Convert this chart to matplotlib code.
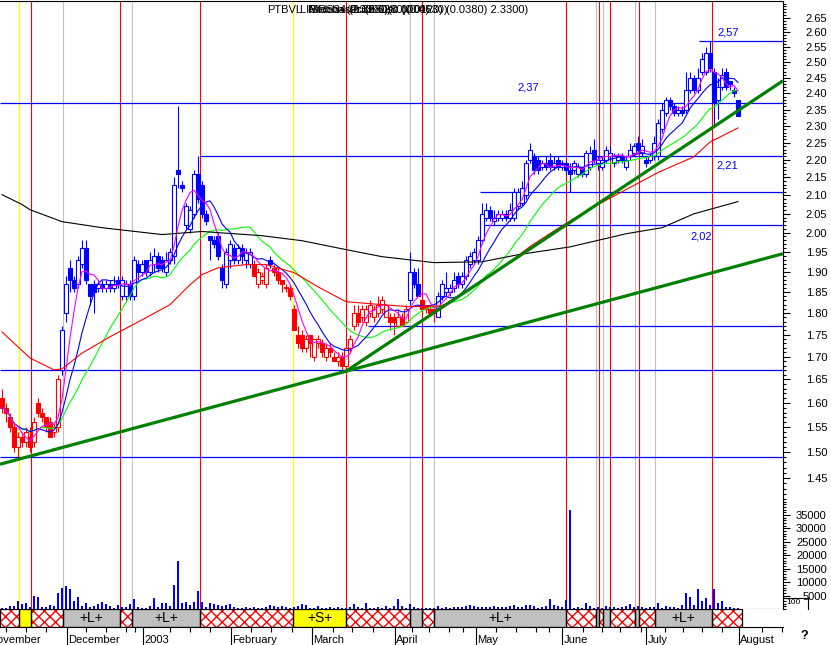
import numpy as np
import pandas as pd
import matplotlib
matplotlib.use("Agg")
import matplotlib.pyplot as plt
import matplotlib.transforms as mtransforms
from matplotlib.patches import Rectangle
from matplotlib.lines import Line2D
from matplotlib.ticker import FixedLocator, NullFormatter, FormatStrFormatter

plt.rcParams['font.family'] = ['Liberation Sans', 'DejaVu Sans']

# PTBVL daily bars, late Nov 2002 .. end of Jul 2003 (x = trading day index)
opens = [1.61, 1.59, 1.57, 1.55, 1.51, 1.53, 1.52, 1.53, 1.52, 1.60,
         1.58, 1.57, 1.56, 1.54, 1.55, 1.67, 1.80, 1.91, 1.88, 1.87,
         1.92, 1.96, 1.87, 1.87, 1.86, 1.87, 1.86, 1.87, 1.86, 1.88,
         1.84, 1.84, 1.87, 1.84, 1.92, 1.90, 1.93, 1.90, 1.92, 1.94,
         1.93, 1.90, 1.93, 1.94, 2.17, 2.13, 2.02, 2.01, 2.05, 2.16,
         2.13, 2.05, 1.99, 1.98, 1.99, 1.91, 1.87, 1.93, 1.96, 1.93,
         1.96, 1.93, 1.92, 1.92, 1.87, 1.88, 1.87, 1.93, 1.91, 1.90,
         1.88, 1.86, 1.86, 1.81, 1.75, 1.75, 1.72, 1.75, 1.70, 1.73,
         1.73, 1.70, 1.72, 1.70, 1.69, 1.70, 1.68, 1.72, 1.77, 1.80,
         1.79, 1.78, 1.80, 1.79, 1.80, 1.81, 1.79, 1.79, 1.79, 1.77,
         1.79, 1.78, 1.83, 1.90, 1.87, 1.83, 1.82, 1.81, 1.81, 1.79,
         1.84, 1.85, 1.85, 1.86, 1.89, 1.87, 1.89, 1.92, 1.93, 1.93,
         1.98, 2.04, 2.06, 2.03, 2.04, 2.04, 2.05, 2.04, 2.04, 2.07,
         2.08, 2.10, 2.20, 2.21, 2.20, 2.18, 2.19, 2.20, 2.18, 2.20,
         2.18, 2.19, 2.17, 2.17, 2.16, 2.18, 2.16, 2.18, 2.23, 2.19,
         2.18, 2.20, 2.21, 2.19, 2.20, 2.21, 2.18, 2.21, 2.22, 2.25,
         2.22, 2.20, 2.20, 2.21, 2.21, 2.29, 2.34, 2.38, 2.36, 2.34,
         2.35, 2.35, 2.41, 2.45, 2.41, 2.47, 2.47, 2.53, 2.47, 2.38,
         2.42, 2.47, 2.44, 2.41, 2.38]
highs = [1.63, 1.60, 1.58, 1.56, 1.54, 1.54, 1.55, 1.55, 1.57, 1.61,
         1.59, 1.57, 1.57, 1.56, 1.66, 1.77, 1.89, 1.93, 1.89, 1.94,
         1.98, 1.98, 1.87, 1.88, 1.88, 1.88, 1.88, 1.88, 1.89, 1.89,
         1.89, 1.88, 1.88, 1.94, 1.93, 1.93, 1.93, 1.95, 1.96, 1.95,
         1.94, 1.95, 1.96, 2.15, 2.36, 2.14, 2.08, 2.07, 2.17, 2.21,
         2.14, 2.06, 1.99, 1.99, 2.00, 1.92, 1.96, 1.98, 1.97, 1.97,
         1.97, 1.96, 1.96, 1.93, 1.91, 1.90, 1.92, 1.94, 1.92, 1.91,
         1.88, 1.87, 1.87, 1.82, 1.77, 1.76, 1.75, 1.75, 1.74, 1.75,
         1.74, 1.73, 1.73, 1.71, 1.71, 1.71, 1.73, 1.75, 1.82, 1.82,
         1.82, 1.82, 1.83, 1.82, 1.84, 1.84, 1.82, 1.80, 1.80, 1.81,
         1.80, 1.82, 1.95, 1.91, 1.91, 1.84, 1.82, 1.82, 1.81, 1.85,
         1.88, 1.90, 1.87, 1.90, 1.90, 1.90, 1.94, 1.95, 1.96, 1.99,
         2.08, 2.08, 2.07, 2.06, 2.06, 2.06, 2.06, 2.08, 2.12, 2.12,
         2.14, 2.20, 2.25, 2.22, 2.21, 2.20, 2.21, 2.22, 2.21, 2.21,
         2.20, 2.20, 2.19, 2.20, 2.19, 2.18, 2.23, 2.24, 2.26, 2.21,
         2.21, 2.24, 2.24, 2.22, 2.22, 2.22, 2.21, 2.25, 2.25, 2.27,
         2.26, 2.21, 2.22, 2.27, 2.32, 2.37, 2.39, 2.39, 2.37, 2.36,
         2.36, 2.47, 2.47, 2.46, 2.48, 2.53, 2.55, 2.57, 2.48, 2.45,
         2.48, 2.48, 2.44, 2.42, 2.38]
lows = [1.58, 1.56, 1.54, 1.50, 1.49, 1.51, 1.51, 1.50, 1.51, 1.57,
        1.56, 1.54, 1.53, 1.53, 1.54, 1.66, 1.78, 1.85, 1.85, 1.86,
        1.91, 1.87, 1.82, 1.80, 1.85, 1.85, 1.85, 1.85, 1.85, 1.86,
        1.83, 1.83, 1.83, 1.83, 1.88, 1.89, 1.89, 1.89, 1.90, 1.90,
        1.90, 1.89, 1.92, 1.92, 2.12, 2.11, 2.01, 2.00, 2.04, 2.08,
        2.04, 2.02, 1.93, 1.96, 1.93, 1.86, 1.86, 1.91, 1.92, 1.92,
        1.92, 1.91, 1.91, 1.89, 1.86, 1.87, 1.86, 1.91, 1.89, 1.87,
        1.85, 1.85, 1.83, 1.76, 1.72, 1.71, 1.71, 1.70, 1.69, 1.72,
        1.70, 1.69, 1.70, 1.69, 1.68, 1.67, 1.67, 1.71, 1.76, 1.77,
        1.78, 1.77, 1.79, 1.78, 1.79, 1.80, 1.79, 1.76, 1.75, 1.77,
        1.77, 1.78, 1.82, 1.86, 1.84, 1.80, 1.80, 1.80, 1.78, 1.79,
        1.83, 1.84, 1.84, 1.85, 1.86, 1.86, 1.88, 1.91, 1.92, 1.92,
        1.97, 2.03, 2.03, 2.02, 2.03, 2.03, 2.03, 2.03, 2.03, 2.06,
        2.07, 2.09, 2.19, 2.16, 2.16, 2.17, 2.17, 2.17, 2.17, 2.17,
        2.17, 2.16, 2.11, 2.16, 2.15, 2.15, 2.15, 2.17, 2.19, 2.17,
        2.17, 2.19, 2.20, 2.18, 2.19, 2.19, 2.17, 2.20, 2.21, 2.22,
        2.21, 2.18, 2.19, 2.20, 2.20, 2.28, 2.33, 2.35, 2.33, 2.33,
        2.33, 2.34, 2.40, 2.40, 2.40, 2.46, 2.46, 2.47, 2.30, 2.32,
        2.41, 2.41, 2.41, 2.39, 2.33]
closes = [1.59, 1.58, 1.55, 1.51, 1.53, 1.52, 1.54, 1.51, 1.56, 1.58,
          1.57, 1.55, 1.53, 1.55, 1.65, 1.76, 1.87, 1.88, 1.86, 1.93,
          1.96, 1.88, 1.84, 1.85, 1.87, 1.86, 1.87, 1.86, 1.87, 1.87,
          1.88, 1.87, 1.84, 1.93, 1.90, 1.92, 1.90, 1.93, 1.94, 1.91,
          1.91, 1.93, 1.95, 2.13, 2.16, 2.12, 2.07, 2.06, 2.16, 2.09,
          2.05, 2.03, 1.98, 1.97, 1.94, 1.88, 1.95, 1.97, 1.93, 1.96,
          1.94, 1.95, 1.95, 1.89, 1.90, 1.89, 1.91, 1.92, 1.90, 1.88,
          1.87, 1.86, 1.84, 1.76, 1.73, 1.72, 1.74, 1.73, 1.74, 1.74,
          1.71, 1.72, 1.71, 1.69, 1.70, 1.68, 1.72, 1.74, 1.80, 1.78,
          1.81, 1.81, 1.82, 1.81, 1.82, 1.83, 1.82, 1.78, 1.78, 1.79,
          1.77, 1.81, 1.90, 1.87, 1.84, 1.81, 1.81, 1.80, 1.80, 1.84,
          1.87, 1.86, 1.86, 1.88, 1.87, 1.89, 1.93, 1.94, 1.95, 1.98,
          2.05, 2.06, 2.04, 2.04, 2.05, 2.05, 2.04, 2.06, 2.11, 2.11,
          2.12, 2.19, 2.23, 2.17, 2.17, 2.19, 2.18, 2.18, 2.19, 2.18,
          2.19, 2.17, 2.16, 2.19, 2.18, 2.16, 2.22, 2.22, 2.20, 2.20,
          2.20, 2.23, 2.22, 2.21, 2.21, 2.20, 2.20, 2.23, 2.24, 2.23,
          2.24, 2.19, 2.21, 2.25, 2.31, 2.35, 2.38, 2.36, 2.34, 2.35,
          2.34, 2.41, 2.45, 2.41, 2.45, 2.51, 2.53, 2.48, 2.37, 2.42,
          2.46, 2.42, 2.43, 2.40, 2.33]
volumes = [500, 500, 1100, 1100, 2900, 1800, 2300, 700, 5000, 4500,
           700, 700, 1500, 1100, 6100, 8000, 8400, 7500, 2900, 4400,
           1100, 2200, 700, 1100, 1800, 2600, 1700, 1100, 500, 1500,
           700, 800, 1800, 3700, 700, 500, 500, 1100, 4000, 700,
           2200, 2200, 1100, 9100, 17900, 2400, 2600, 1500, 2600, 6600,
           2600, 700, 2200, 1800, 1500, 1100, 1500, 1800, 700, 500,
           500, 700, 500, 700, 500, 500, 700, 1500, 1300, 700,
           1100, 700, 500, 700, 1100, 1700, 1500, 500, 500, 1100,
           500, 500, 700, 500, 700, 500, 500, 700, 1800, 700,
           500, 2400, 500, 500, 700, 500, 1100, 500, 1100, 3900,
           1100, 500, 1700, 900, 500, 500, 500, 500, 500, 1100,
           500, 700, 500, 700, 900, 700, 1300, 1500, 1300, 700,
           700, 900, 700, 1100, 700, 700, 900, 1100, 1500, 700,
           700, 1500, 1500, 1100, 500, 700, 1100, 3700, 1500, 1100,
           700, 3300, 37000, 500, 700, 500, 2200, 1100, 500, 700,
           500, 1100, 700, 700, 500, 700, 1100, 1700, 700, 1100,
           700, 500, 700, 700, 2200, 500, 1100, 700, 700, 500,
           1500, 6100, 4400, 1500, 7300, 3000, 4000, 1500, 7300, 2200,
           2900, 700, 700, 500, 500]

# bars drawn red (down-trend signal) - inclusive index ranges
red_runs = [(0, 14), (63, 66), (68, 101), (105, 108)]

# 50 and 200 day averages
ma50_idx = [0, 7, 13, 15, 20, 27, 35, 42, 47, 50, 54, 61, 66, 73, 79, 86, 95,
            102, 110, 117, 125, 132, 140, 148, 156, 164, 173, 177, 184]
ma50_val = [1.756, 1.697, 1.671, 1.673, 1.708, 1.745, 1.784, 1.820, 1.868,
            1.893, 1.910, 1.918, 1.918, 1.898, 1.863, 1.827, 1.820, 1.815,
            1.817, 1.856, 1.910, 1.964, 2.018, 2.069, 2.116, 2.164, 2.209,
            2.252, 2.294]
ma200_idx = [0, 5, 7, 15, 25, 40, 50, 65, 75, 86, 95, 108, 120, 129, 142,
             156, 165, 173, 184]
ma200_val = [2.102, 2.075, 2.061, 2.029, 2.013, 1.995, 2.003, 1.992, 1.979,
             1.956, 1.938, 1.923, 1.925, 1.943, 1.963, 1.997, 2.013, 2.050,
             2.083]

# support / resistance levels: (price, first bar)
levels = [(2.57, 174.25), (2.37, -0.5), (2.21, 49.5), (2.11, 119.5),
          (2.02, 119.5), (1.77, 91.5), (1.67, -0.5), (1.49, -0.5)]
level_labels = [('2,57', 181.5, 2.598), ('2,37', 131.5, 2.418),
                ('2,21', 181.25, 2.183), ('2,02', 174.75, 1.991)]

# trend lines through two lows: (bar, price), (bar, price), draw from
trend_lines = [((4, 1.486), (86, 1.668), -0.5),
               ((86, 1.668), (178, 2.298), 86)]

# signal markers
yellow_marks = [4.25, 72.75]
red_marks = [7.25, 29.5, 49.5, 86, 105, 141, 149.25, 152, 159.25, 177.5]
gray_marks = [15.25, 32.5, 102, 108, 148.5, 150.25, 158.25, 163.25]

# position strip: (start, end, kind, label)
strip = [(-0.5, 4.25, 'x', ''), (4.25, 7.25, 'y', ''), (7.25, 15.25, 'x', ''),
         (15.25, 29.5, 'g', '+L+'), (29.5, 32.5, 'x', ''), (32.5, 49.5, 'g', '+L+'),
         (49.5, 72.75, 'x', ''), (72.75, 86, 'y', '+S+'), (86, 102, 'x', ''),
         (102, 105, 'g', ''), (105, 108, 'x', ''), (108, 141, 'g', '+L+'),
         (141, 148.5, 'x', ''), (148.5, 149.25, 'g', ''), (149.25, 150.25, 'x', ''),
         (150.25, 152, 'g', ''), (152, 158.25, 'x', ''), (158.25, 159.25, 'g', ''),
         (159.25, 163.25, 'x', ''), (163.25, 177.5, 'g', '+L+'), (177.5, 185, 'x', '')]

month_ticks = [16.25, 35.25, 57.25, 77.5, 98.25, 118.5, 140, 161, 184.25]
month_names = ['December', '2003', 'February', 'March', 'April', 'May',
               'June', 'July', 'August']
week_ticks = [1, 6, 11, 21, 26, 31, 33.25, 42, 47, 52, 62.25, 67.25, 72.5,
              82.75, 87.5, 92.75, 102.5, 106.75, 111.75, 115.25, 123.5, 128.5,
              133.5, 136.75, 145.25, 150, 154.5, 159.75, 165.75, 170.25, 175,
              180, 190, 195]

BLUE = '#0000ff'
RED = '#ff0000'
GRAY = '#c0c0c0'
YELLOW = '#ffff00'
XMIN, XMAX = -0.5, 195.25

W, H = 831, 645


def box(x0, y0, x1, y1):
    return [x0 / W, 1 - y1 / H, (x1 - x0) / W, (y1 - y0) / H]


fig = plt.figure(figsize=(W / 100, H / 100), dpi=100)
ax = fig.add_axes(box(0, 1, 783, 497))
axv = fig.add_axes(box(0, 497, 783, 609), sharex=ax)
axs = fig.add_axes(box(0, 609, 783, 627), sharex=ax)

n = len(closes)
idx = np.arange(n)

# signal lines through price + volume panels
for a in (ax, axv):
    for x in gray_marks:
        a.axvline(x, color=GRAY, lw=0.8, zorder=1)
    for x in yellow_marks:
        a.axvline(x, color=YELLOW, lw=0.9, zorder=1)
    for x in red_marks:
        a.axvline(x, color=RED, lw=0.8, zorder=1)

for price, start in levels:
    ax.hlines(price, start, XMAX, color=BLUE, lw=0.9, zorder=2)
for txt, x, y in level_labels:
    ax.text(x, y, txt, color=BLUE, fontsize=8, ha='center', va='center')

# candles
colors = [BLUE] * n
for a, b in red_runs:
    for k in range(a, b + 1):
        colors[k] = RED
for k in range(n):
    o, c, col = opens[k], closes[k], colors[k]
    ax.vlines(k, lows[k], highs[k], color=col, lw=0.8, zorder=3)
    lo, hi = min(o, c), max(o, c)
    ax.add_patch(Rectangle((k - 0.4, lo), 0.8, max(hi - lo, 0.002),
                           facecolor=col if c < o else 'white',
                           edgecolor=col, lw=0.8, zorder=4))

s = pd.Series(closes)
ax.plot(idx, s.rolling(20, min_periods=1).mean(), color='#00ff00', lw=0.8, zorder=5)
ax.plot(idx, s.rolling(10, min_periods=1).mean(), color=BLUE, lw=0.8, zorder=5)
ax.plot(idx, s.rolling(5, min_periods=1).mean(), color='#ff00ff', lw=0.8, zorder=5)
ax.plot(ma50_idx, ma50_val, color=RED, lw=0.8, zorder=5)
ax.plot(ma200_idx, ma200_val, color='black', lw=0.8, zorder=5)

for (i0, p0), (i1, p1), start in trend_lines:
    slope = (np.log(p1) - np.log(p0)) / (i1 - i0)
    xs = np.array([start, XMAX])
    ax.plot(xs, np.exp(np.log(p0) + slope * (xs - i0)), color='#008000',
            lw=2.3, zorder=6, solid_capstyle='butt')

ax.set_yscale('log')
ax.set_xlim(XMIN, XMAX)
ax.set_ylim(1.4146, 2.709)
ax.yaxis.tick_right()
ax.yaxis.set_major_locator(FixedLocator(np.round(np.arange(1.45, 2.651, 0.05), 2)))
ax.yaxis.set_minor_locator(FixedLocator(np.round(np.arange(1.42, 2.71, 0.01), 2)))
ax.yaxis.set_major_formatter(FormatStrFormatter('%.2f'))
ax.yaxis.set_minor_formatter(NullFormatter())
ax.tick_params(axis='y', which='major', length=5, width=0.8, pad=11.5, labelsize=8)
ax.tick_params(axis='y', which='minor', length=2.5, width=0.8)
ax.tick_params(axis='x', which='both', bottom=False, top=False, labelbottom=False)
ax.spines['left'].set_visible(False)
ax.spines['bottom'].set_visible(False)

# volume
axv.bar(idx, volumes, width=0.5, color=BLUE, zorder=3)
axv.set_ylim(0, 41700)
axv.yaxis.tick_right()
axv.yaxis.set_major_locator(FixedLocator(range(5000, 35001, 5000)))
axv.yaxis.set_minor_locator(FixedLocator(range(0, 41001, 1000)))
axv.yaxis.set_major_formatter(FormatStrFormatter('%d'))
axv.tick_params(axis='y', which='major', length=5, width=0.8, pad=26.5, labelsize=8)
axv.tick_params(axis='y', which='minor', length=2.5, width=0.8)
for lbl in axv.get_yticklabels():
    lbl.set_horizontalalignment('right')
axv.tick_params(axis='x', which='both', bottom=False, top=False, labelbottom=False)
axv.spines['left'].set_visible(False)
axv.spines['top'].set_visible(False)

# position strip
fills = {'g': GRAY, 'y': YELLOW}
for a, b, kind, label in strip:
    if kind == 'x':
        axs.add_patch(Rectangle((a, 0), b - a, 1, facecolor='white',
                                edgecolor=RED, hatch='xxx', lw=0, zorder=1))
    else:
        axs.add_patch(Rectangle((a, 0), b - a, 1, facecolor=fills[kind], lw=0, zorder=1))
    axs.add_patch(Rectangle((a, 0), b - a, 1, fill=False, edgecolor='black',
                            lw=0.9, zorder=3))
    if label:
        axs.text((a + b) / 2, 0.5, label, ha='center', va='center', fontsize=10)
axs.set_ylim(0, 1)
axs.set_yticks([])
for sp in ('left', 'top', 'right'):
    axs.spines[sp].set_visible(False)
axs.xaxis.set_major_locator(FixedLocator(month_ticks))
axs.xaxis.set_minor_locator(FixedLocator(week_ticks))
axs.tick_params(axis='x', which='major', length=13, width=0.8, labelbottom=False)
axs.tick_params(axis='x', which='minor', length=3.5, width=0.8)
axs.set_xlim(XMIN, XMAX)

trans = mtransforms.blended_transform_factory(axs.transData, axs.transAxes)
axs.text(-3.3, -0.72, 'November', transform=trans, ha='left', va='center',
         fontsize=8, clip_on=False)
for pos, name in zip(month_ticks, month_names):
    axs.text(pos + 0.35, -0.72, name, transform=trans, ha='left', va='center',
             fontsize=8, clip_on=False)

fig.text(800 / W, 1 - 636 / H, '?', fontsize=9, fontweight='bold', va='center')
fig.text(786 / W, 1 - 603 / H, '100', fontsize=6, va='center')
fig.add_artist(Line2D([784 / W, 808 / W], [1 - 598 / H] * 2, color='black', lw=0.8))
fig.add_artist(Line2D([808 / W] * 2, [1 - 598 / H, 1 - 609 / H], color='black', lw=0.8))

# overlapping indicator captions at the top (as printed by the charting tool)
fig.text(267 / W, 1 - 10 / H, 'PTBVL', fontsize=8, va='center')
for x, t in [(300, 'LIMRS34 (2.3880)'), (308, 'Ribbon (2.3300)(0.0000)'),
             (310, 'Stochastic (0.6280)(0.4630)'),
             (350, 'Price Osc (0.0120) (0.0380) 2.3300)')]:
    fig.text(x / W, 1 - 10 / H, t, fontsize=8, va='center')

fig.savefig('out.png', dpi=100)
